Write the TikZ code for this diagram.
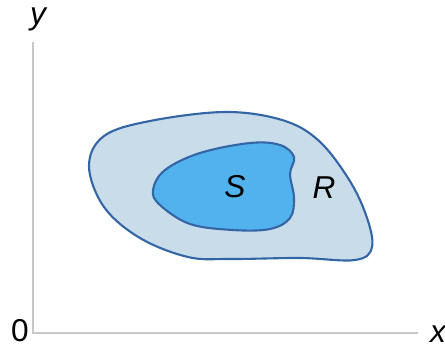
\documentclass[tikz,border=0pt]{standalone}
\usepackage{fontspec}
\setmainfont{Liberation Sans}
\usepackage{xcolor}
\definecolor{axisc}{HTML}{C8C8C8}
\definecolor{outerc}{HTML}{C9DCE9}
\definecolor{innerc}{HTML}{52B2EE}
\definecolor{edgec}{HTML}{3466A6}
\begin{document}
\begin{tikzpicture}[x=0.02cm, y=-0.02cm, font=\fontsize{18}{21}\selectfont]
  \useasboundingbox (0,0) rectangle (445,358);
  % axes
  \draw[axisc, thick] (33,42) -- (33,333) -- (418,333);
  \node (ylab) at (38,19) {\itshape y};
  \node (orig) at (20,331) {0};
  \node (xlab) at (438,334) {\itshape x};

  % region R
  \draw[edgec, line width=1.2pt, fill=outerc] plot[smooth cycle, tension=0.6] coordinates {
    (89,166) (104,136) (150,121) (225,112) (282,120) (318,140) (348,178)
    (366,215) (372,247) (355,260) (300,258) (230,259) (188,257) (140,238)
    (104,207)};
  % region S
  \draw[edgec, line width=1.2pt, fill=innerc] plot[smooth cycle, tension=0.6] coordinates {
    (153,190) (165,170) (200,153) (250,143) (280,145) (294,157)
    (290,174) (294,198) (290,218) (270,229) (233,230) (190,224)
    (160,205)};

  \node (S) at (235,187) {\itshape S};
  \node (R) at (324,188) {\itshape R};
\end{tikzpicture}
\end{document}
